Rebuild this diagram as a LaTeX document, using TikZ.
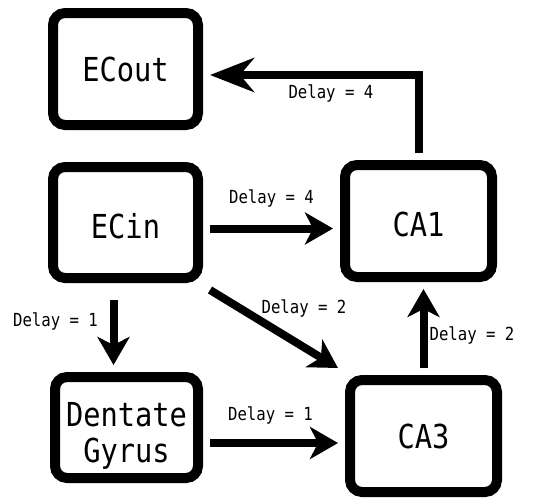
\documentclass[tikz,border=0pt]{standalone}
\usepackage{fontspec}
\newfontfamily\gothic[FakeStretch=0.87]{DejaVu Sans Mono}
\usetikzlibrary{
  arrows.meta,
}

\begin{document}
\begin{tikzpicture}[x=1pt,y=-1pt]
\useasboundingbox (0,0) rectangle (539,498);

\tikzset{
  region/.style={
    draw, line width=10pt, rounded corners=12pt,
    outer sep=12pt, align=center,
    font=\gothic\fontsize{33}{36}\selectfont,
    minimum width=145pt, minimum height=112pt,
  },
  flow/.style={
    line width=8pt,
    -{Stealth[length=28pt,width=32pt,inset=8pt]},
  },
  delay/.style={
    font=\gothic\fontsize{18}{20}\selectfont, inner sep=0pt,
  },
}

\node[region] (ECout) at (125.5,69) {ECout};
\node[region, minimum height=111pt] (ECin) at (125.5,222.5) {\rule{0pt}{33pt}ECin};
\node[region, minimum width=147pt] (CA1) at (418.5,221) {\rule{0pt}{31pt}CA1};
\node[region, minimum width=143pt, minimum height=101pt] (DG) at (126.5,427.5) {\rule{0pt}{41pt}Dentate\\Gyrus};
\node[region, minimum width=147pt] (CA3) at (423.5,436) {CA3};

\draw[flow, -{Stealth[length=44pt,width=34pt,inset=14pt]}] (CA1.north) |- ([yshift=-6pt]ECout.east)
  node[delay, pos=0.71, yshift=-18pt] {Delay = 4};
\draw[flow] ([yshift=-6pt]ECin.east) -- ([yshift=-6pt]ECin.east -| CA1.west)
  node[delay, midway, yshift=30pt] {Delay = 4};
\draw[flow] (ECin.south east) -- (CA3.north west)
  node[delay, midway, xshift=30pt, yshift=21pt] {Delay = 2};
\draw[flow, shorten <=10pt] ([xshift=-12pt]ECin.south) -- ([xshift=-12pt]ECin.south |- DG.north)
  node[delay, midway, xshift=-58pt, yshift=6.5pt] {Delay = 1};
\draw[flow] ([yshift=-7pt]CA3.west -| DG.east) -- ([yshift=-7pt]CA3.west)
  node[delay, midway, xshift=-3.5pt, yshift=28pt] {Delay = 1};
\draw[flow] (CA3.north) -- (CA3.north |- CA1.south)
  node[delay, midway, xshift=48.5pt, yshift=-6.5pt] {Delay = 2};
\end{tikzpicture}
\end{document}
